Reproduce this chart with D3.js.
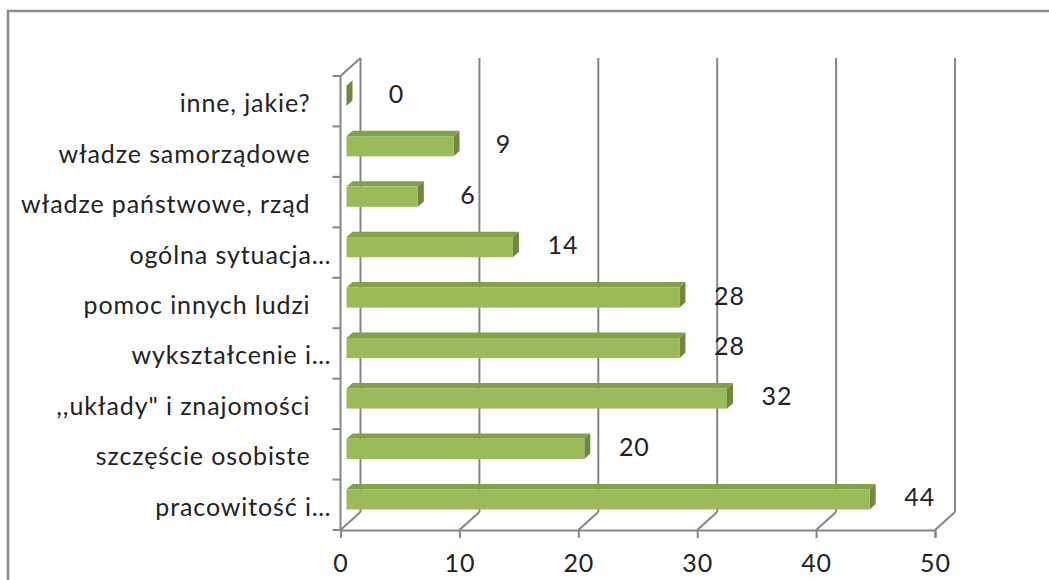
<!DOCTYPE html>
<html>
<head>
<meta charset="utf-8">
<script src="https://cdn.jsdelivr.net/npm/d3@7"></script>
<style>
  html, body { margin: 0; padding: 0; background: #fff; }
  svg { display: block; }
  text { font-family: Lato, "Open Sans", sans-serif; fill: #222; }
</style>
</head>
<body>
<svg id="chart" width="1049" height="580"></svg>
<script>
// ---- data (top to bottom as displayed) ----
const categories = [
  "inne, jakie?",
  "władze samorządowe",
  "władze państwowe, rząd",
  "ogólna sytuacja…",
  "pomoc innych ludzi",
  "wykształcenie i…",
  ",,układy\" i znajomości",
  "szczęście osobiste",
  "pracowitość i…"
];
const values = [0, 9, 6, 14, 28, 28, 32, 20, 44];
const xTicks = [0, 10, 20, 30, 40, 50];

// ---- layout ----
const svg = d3.select("#chart");
const pLeft = 340.5, pRight = 935, pTop = 76, pBottom = 530;
const DX = 20, DY = -18;           // depth of 3D box
const bf = 0.3, bb = 0.6;          // bar front/back depth fractions
const grid = "#868686";
const fontSize = "25px", letterSp = "0.9px";

const x = d3.scaleLinear().domain([0, 50]).range([pLeft, pRight]);
const y = d3.scaleBand().domain(categories).range([pTop, pBottom]).padding(0);

// outer border
svg.append("rect").attr("x", 8).attr("y", 11).attr("width", 1100).attr("height", 640)
  .attr("fill", "none").attr("stroke", "#8c8c8c").attr("stroke-width", 2.5);

const g = svg.append("g");

// back wall gridlines
g.selectAll("line.grid").data(xTicks).join("line")
  .attr("x1", d => x(d) + DX).attr("x2", d => x(d) + DX)
  .attr("y1", pTop + DY).attr("y2", pBottom + DY)
  .attr("stroke", grid).attr("stroke-width", 2);
// floor diagonals
g.selectAll("line.floor").data(xTicks).join("line")
  .attr("x1", d => x(d)).attr("x2", d => x(d) + DX)
  .attr("y1", pBottom).attr("y2", pBottom + DY)
  .attr("stroke", grid).attr("stroke-width", 2);
// left wall top diagonal
g.append("line").attr("x1", x(0)).attr("y1", pTop).attr("x2", x(0) + DX).attr("y2", pTop + DY)
  .attr("stroke", grid).attr("stroke-width", 2);

// axes (front plane)
const xAxis = d3.axisBottom(x).tickValues(xTicks).tickSize(8).tickPadding(16);
const ax = svg.append("g").attr("transform", `translate(0,${pBottom})`).call(xAxis);
ax.select(".domain").attr("stroke", grid).attr("stroke-width", 2);
ax.selectAll(".tick line").attr("stroke", grid).attr("stroke-width", 2);
ax.selectAll(".tick text").style("font-size", fontSize).style("letter-spacing", letterSp)
  .style("font-family", "Lato, sans-serif").attr("fill", "#222");

// left axis line and ticks at band boundaries
svg.append("line").attr("x1", pLeft).attr("x2", pLeft).attr("y1", pTop).attr("y2", pBottom)
  .attr("stroke", grid).attr("stroke-width", 2);
const bounds = d3.range(categories.length + 1).map(i => pTop + i * y.bandwidth());
svg.selectAll("line.ytick").data(bounds).join("line")
  .attr("x1", pLeft - 8).attr("x2", pLeft).attr("y1", d => d).attr("y2", d => d)
  .attr("stroke", grid).attr("stroke-width", 2);

// category labels
svg.selectAll("text.cat").data(categories).join("text")
  .attr("class", "cat")
  .attr("x", d => d.endsWith("…") ? pLeft - 9 : pLeft - 30)
  .attr("y", d => y(d) + y.bandwidth() / 2 + 1)
  .attr("text-anchor", "end").attr("dominant-baseline", "central")
  .style("font-size", fontSize).style("letter-spacing", letterSp)
  .text(d => d);

// bars
const bh = y.bandwidth() * 0.4;
const fx = DX * bf, fy = DY * bf, bx = DX * bb, by = DY * bb;
const rows = values.map((v, i) => ({ v, c: categories[i] }));
const bars = svg.selectAll("g.bar").data(rows).join("g").attr("class", "bar");
bars.each(function (d) {
  const gg = d3.select(this);
  const x0 = x(0) + fx, x1 = x(d.v) + fx;
  const yc = y(d.c) + y.bandwidth() / 2 + fy;
  const y0 = yc - bh / 2, y1 = yc + bh / 2;
  const ddx = bx - fx, ddy = by - fy;
  gg.append("path")
    .attr("d", `M${x0},${y0}L${x1},${y0}L${x1 + ddx},${y0 + ddy}L${x0 + ddx},${y0 + ddy}Z`)
    .attr("fill", "#83a04a");
  gg.append("path")
    .attr("d", `M${x1},${y0}L${x1 + ddx},${y0 + ddy}L${x1 + ddx},${y1 + ddy}L${x1},${y1}Z`)
    .attr("fill", "#6e883d");
  gg.append("rect").attr("x", x0).attr("y", y0).attr("width", x1 - x0).attr("height", bh)
    .attr("fill", "#9bbb59");
});

// value labels
svg.selectAll("text.val").data(rows).join("text")
  .attr("class", "val")
  .attr("x", d => x(d.v) + bx + 44)
  .attr("y", d => y(d.c) + y.bandwidth() / 2 + fy - 3)
  .attr("text-anchor", "middle").attr("dominant-baseline", "central")
  .style("font-size", fontSize).style("letter-spacing", letterSp)
  .text(d => d.v);
</script>
</body>
</html>
